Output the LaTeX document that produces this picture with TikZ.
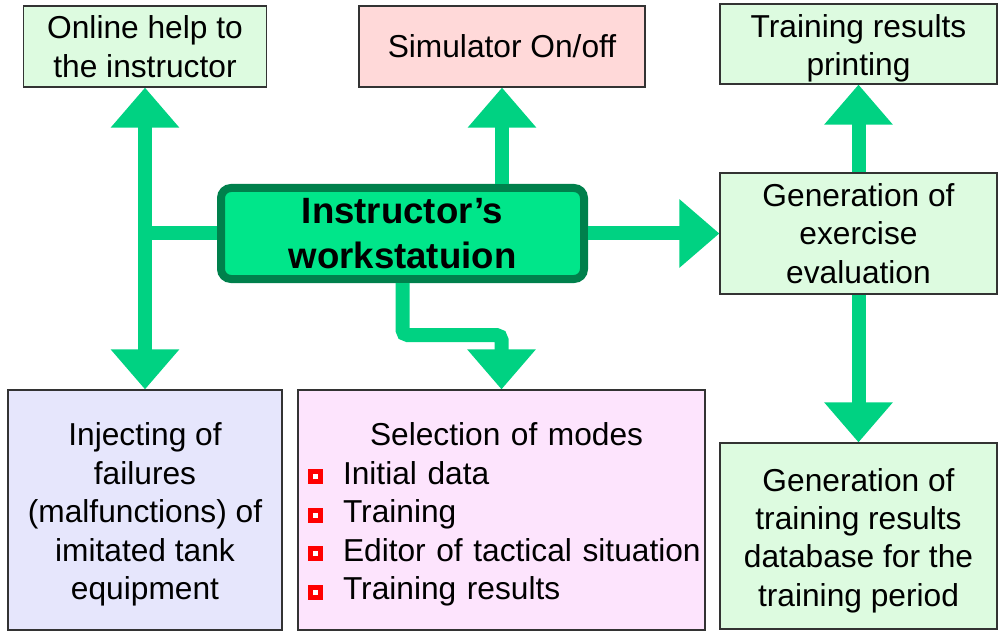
\documentclass[tikz,border=0pt]{standalone}
\usepackage{fontspec}
\setmainfont{Liberation Sans}
\usepackage{tikz}
\usetikzlibrary{arrows.meta}

\definecolor{flowgreen}{RGB}{0,210,130}
\definecolor{hubfill}{RGB}{0,230,138}
\definecolor{hubline}{RGB}{0,128,76}
\definecolor{mint}{RGB}{221,251,224}
\definecolor{rose}{RGB}{255,217,217}
\definecolor{lavender}{RGB}{230,230,252}
\definecolor{orchid}{RGB}{253,228,253}

% red square bullet with a white dot
\newcommand{\modebullet}{\hspace*{10bp}\textcolor{red}{\rule{15bp}{15bp}}\llap{\textcolor{white}{\rule[5bp]{5bp}{5bp}}\hspace{5bp}}\hspace{20bp}}
% extra head room for boxes whose last line hangs below the baseline
\newcommand{\toproom}{\rule{0pt}{32bp}}

\begin{document}
\begin{tikzpicture}[x=1bp, y=-1bp,
    box/.style={draw=black!80, line width=1.2bp, inner sep=0pt, align=center,
                font=\fontsize{31.7bp}{38.4bp}\selectfont},
    hub/.style={draw=hubline, fill=hubfill, line width=8bp, rounded corners=10bp,
                inner sep=0pt, align=center, font=\bfseries\fontsize{36.6bp}{45bp}\selectfont},
    flow/.style={draw=flowgreen, line width=14bp, -{Triangle[length=40bp, width=66bp]}}]
  \useasboundingbox (0,0) rectangle (1006,632);

  \node[box, fill=mint, minimum width=243bp, minimum height=81bp] (online) at (145,46.5) {Online help to\\the instructor};
  \node[box, fill=rose, minimum width=286bp, minimum height=81bp] (simonoff) at (502,46.5) {Simulator On/off};
  \node[box, fill=mint, minimum width=277bp, minimum height=80bp] (printing) at (858.5,44) {\toproom Training results\\printing};
  \node[hub, minimum width=363bp, minimum height=91bp] (station) at (402.5,233.5) {Instructor’s\\workstatuion};
  \node[box, fill=mint, minimum width=277bp, minimum height=121bp] (evaluation) at (858.5,233.5) {Generation of\\exercise\\evaluation};
  \node[box, fill=lavender, minimum width=274bp, minimum height=240bp] (failures) at (145,510) {\toproom Injecting of\\failures\\(malfunctions) of\\imitated tank\\equipment};
  \node[box, fill=orchid, align=left, text width=407bp, minimum height=240bp] (modes) at (501.5,510)
    {\toproom\hspace*{72bp}Selection of modes\\
     \modebullet Initial data\\
     \modebullet Training\\
     \modebullet Editor of tactical situation\\
     \modebullet Training results};
  \node[box, fill=mint, minimum width=277bp, minimum height=186bp] (database) at (858.5,536) {\toproom Generation of\\training results\\database for the\\training period};

  \coordinate (branch) at (online.south |- station.west);
  \draw[flow, -] (station.west) -- (branch);
  \draw[flow] (branch) -- (online.south);
  \draw[flow] (branch) -- (failures.north);
  \draw[flow] (station.north -| simonoff.south) -- (simonoff.south);
  \draw[flow] (station.east) -- (evaluation.west);
  \draw[flow, rounded corners=5bp] (station.south) -- ++(0,52) -| (modes.north);
  \draw[flow] (evaluation.north) -- (printing.south);
  \draw[flow] (evaluation.south) -- (database.north);
\end{tikzpicture}
\end{document}
